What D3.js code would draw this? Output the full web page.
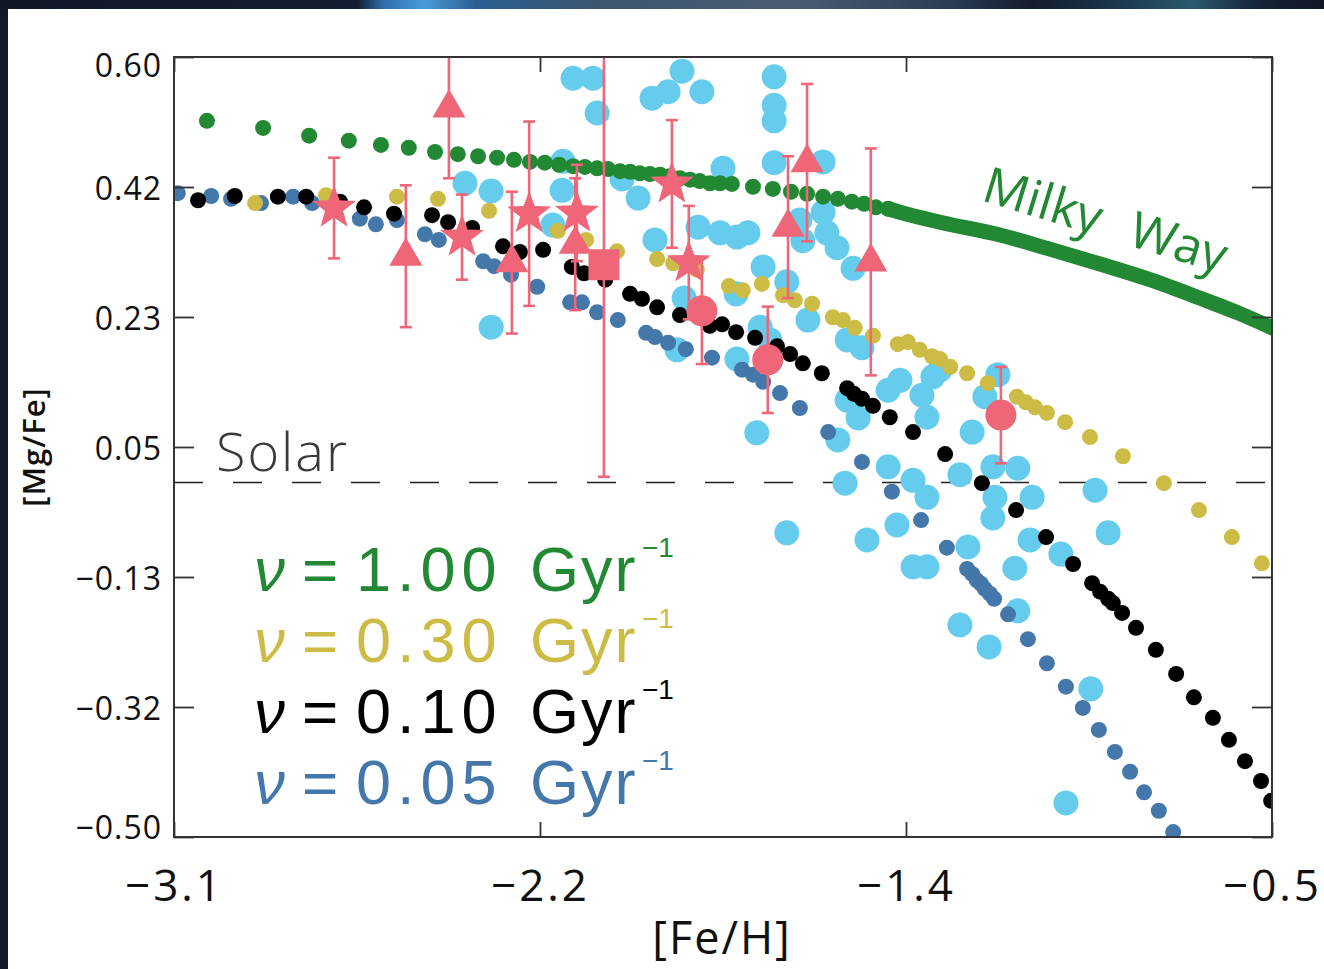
<!DOCTYPE html>
<html>
<head>
<meta charset="utf-8">
<script src="https://cdn.jsdelivr.net/npm/d3@7"></script>
<style>
  html, body { margin: 0; padding: 0; background: #121a2a; }
  svg { display: block; }
</style>
</head>
<body>
<svg id="chart" width="1324" height="969"></svg>
<script>
// ---- axis domains and tick labels ----
const xDomain = [-3.1, -0.5];
const yDomain = [-0.5, 0.6];
const xTickLabels = ["−3.1", "−2.2", "−1.4", "−0.5"];
const yTickLabels = ["−0.50", "−0.32", "−0.13", "0.05", "0.23", "0.42", "0.60"];
const solarLevel = 0;

// ---- chemical evolution tracks: [ [Fe/H], [Mg/Fe] ] ----
const nu100Track = [[-3.022,0.510],[-2.889,0.500],[-2.780,0.489],[-2.686,0.482],[-2.610,0.476],[-2.544,0.472],[-2.482,0.466],[-2.428,0.463],[-2.380,0.460],[-2.335,0.458],[-2.295,0.455],[-2.257,0.452],[-2.222,0.451],[-2.188,0.448],[-2.155,0.446],[-2.127,0.445],[-2.098,0.443],[-2.072,0.442],[-2.044,0.439],[-2.020,0.438],[-1.997,0.436],[-1.973,0.435],[-1.949,0.434],[-1.926,0.432],[-1.902,0.429],[-1.878,0.427],[-1.855,0.425],[-1.831,0.422],[-1.807,0.422],[-1.779,0.421],[-1.729,0.417],[-1.682,0.414],[-1.639,0.410],[-1.601,0.407],[-1.563,0.403],[-1.528,0.400],[-1.495,0.396],[-1.466,0.393],[-1.438,0.388],[-1.409,0.386]];

// dense high-metallicity part of the nu = 1.00 track (Milky Way)
const milkyWayTrack = [[-1.409,0.386],[-1.381,0.381],[-1.286,0.367],[-1.144,0.349],[-1.026,0.329],[-0.907,0.308],[-0.789,0.286],[-0.671,0.260],[-0.576,0.238],[-0.500,0.218]];

const nu030Track = [[-2.908,0.394],[-2.740,0.405],[-2.572,0.403],[-2.475,0.400],[-2.354,0.383],[-2.191,0.355],[-2.124,0.342],[-2.051,0.326],[-1.956,0.315],[-1.918,0.309],[-1.862,0.300],[-1.786,0.277],[-1.753,0.271],[-1.708,0.280],[-1.658,0.264],[-1.630,0.257],[-1.589,0.252],[-1.540,0.233],[-1.516,0.229],[-1.488,0.218],[-1.445,0.207],[-1.386,0.195],[-1.362,0.198],[-1.334,0.187],[-1.305,0.178],[-1.286,0.174],[-1.262,0.163],[-1.222,0.154],[-1.173,0.140],[-1.104,0.121],[-1.083,0.113],[-1.061,0.106],[-1.033,0.098],[-0.990,0.085],[-0.931,0.064],[-0.853,0.037],[-0.756,-0.001],[-0.673,-0.039],[-0.595,-0.077],[-0.524,-0.114]];

const nu010Track = [[-3.043,0.398],[-2.956,0.404],[-2.854,0.403],[-2.787,0.403],[-2.707,0.396],[-2.650,0.388],[-2.579,0.379],[-2.489,0.377],[-2.451,0.367],[-2.394,0.359],[-2.321,0.333],[-2.281,0.325],[-2.226,0.328],[-2.158,0.304],[-2.129,0.295],[-2.079,0.286],[-2.020,0.266],[-1.992,0.259],[-1.956,0.247],[-1.902,0.236],[-1.831,0.221],[-1.802,0.223],[-1.769,0.212],[-1.724,0.204],[-1.672,0.192],[-1.641,0.181],[-1.611,0.168],[-1.566,0.154],[-1.506,0.133],[-1.490,0.125],[-1.471,0.118],[-1.445,0.108],[-1.405,0.092],[-1.350,0.071],[-1.274,0.040],[-1.187,-0.001],[-1.106,-0.039],[-1.035,-0.077],[-0.971,-0.115],[-0.926,-0.142],[-0.907,-0.154],[-0.888,-0.164],[-0.877,-0.170],[-0.855,-0.184],[-0.822,-0.205],[-0.775,-0.236],[-0.727,-0.270],[-0.685,-0.303],[-0.640,-0.332],[-0.602,-0.363],[-0.564,-0.393],[-0.526,-0.421],[-0.502,-0.449]];

const nu005Track = [[-3.091,0.408],[-3.012,0.404],[-2.965,0.400],[-2.894,0.394],[-2.818,0.403],[-2.773,0.394],[-2.660,0.372],[-2.622,0.364],[-2.572,0.370],[-2.506,0.350],[-2.473,0.342],[-2.368,0.312],[-2.342,0.305],[-2.302,0.293],[-2.240,0.276],[-2.162,0.254],[-2.134,0.254],[-2.098,0.240],[-2.049,0.229],[-1.982,0.211],[-1.961,0.205],[-1.930,0.197],[-1.888,0.188],[-1.826,0.176],[-1.755,0.159],[-1.729,0.152],[-1.705,0.142],[-1.665,0.126],[-1.618,0.105],[-1.551,0.071],[-1.471,0.029],[-1.400,-0.013],[-1.331,-0.053],[-1.270,-0.092],[-1.222,-0.122],[-1.210,-0.129],[-1.199,-0.138],[-1.189,-0.143],[-1.180,-0.150],[-1.168,-0.157],[-1.158,-0.164],[-1.125,-0.186],[-1.078,-0.221],[-1.033,-0.255],[-0.988,-0.288],[-0.948,-0.318],[-0.910,-0.349],[-0.872,-0.380],[-0.836,-0.408],[-0.803,-0.437],[-0.768,-0.463],[-0.734,-0.493]];

// ---- comparison stars: [ [Fe/H], [Mg/Fe] ] ----
const fieldStars = [[-2.155,0.570],[-2.108,0.570],[-2.098,0.521],[-1.968,0.542],[-1.930,0.551],[-1.897,0.580],[-1.850,0.551],[-1.679,0.572],[-1.679,0.532],[-1.679,0.510],[-1.679,0.451],[-1.563,0.452],[-1.800,0.443],[-2.179,0.453],[-2.411,0.422],[-2.349,0.411],[-2.181,0.412],[-2.203,0.363],[-2.039,0.428],[-2.001,0.401],[-1.961,0.342],[-1.859,0.360],[-1.807,0.352],[-1.767,0.346],[-1.741,0.352],[-1.618,0.370],[-1.611,0.341],[-1.563,0.381],[-1.554,0.352],[-1.530,0.331],[-1.492,0.302],[-1.705,0.304],[-1.649,0.283],[-1.599,0.229],[-1.769,0.266],[-1.892,0.260],[-1.909,0.187],[-1.767,0.174],[-1.712,0.219],[-1.689,0.201],[-1.506,0.201],[-1.471,0.190],[-2.349,0.219],[-1.409,0.130],[-1.381,0.144],[-1.329,0.123],[-1.303,0.149],[-1.286,0.159],[-1.317,0.092],[-1.506,0.116],[-1.480,0.091],[-1.528,0.060],[-1.720,0.070],[-1.511,-0.001],[-1.409,0.022],[-1.350,0.003],[-1.317,-0.021],[-1.388,-0.060],[-1.459,-0.081],[-1.649,-0.071],[-1.210,0.071],[-1.180,0.121],[-1.149,0.152],[-1.239,0.011],[-1.161,0.022],[-1.102,0.020],[-1.068,-0.021],[-1.161,-0.050],[-1.156,-0.021],[-0.919,-0.011],[-0.888,-0.071],[-1.220,-0.091],[-1.073,-0.081],[-1.000,-0.101],[-1.109,-0.121],[-1.102,-0.181],[-1.239,-0.201],[-1.170,-0.232],[-0.929,-0.291],[-0.988,-0.452],[-1.350,-0.119],[-1.317,-0.119]];

// ---- dwarf galaxy measurements: [ [Fe/H], [Mg/Fe], error ] ----
const starMarkers = [[-2.721,0.387,0.071],[-2.418,0.346,0.060],[-2.259,0.379,0.130],[-2.146,0.380,0.068],[-1.921,0.421,0.090],[-1.881,0.310,0.080]];
const triangleMarkers = [[-2.551,0.319,0.100],[-2.449,0.528,0.099],[-2.300,0.310,0.100],[-2.150,0.336,0.093],[-1.646,0.360,0.100],[-1.601,0.451,0.111],[-1.450,0.311,0.160]];
const squareMarkers = [[-2.082,0.307,0.299]];
const circleMarkers = [[-1.850,0.242,0.075],[-1.694,0.173,0.075],[-1.142,0.095,0.068]];

const legendRows = [
  { value: "1.00", color: "#228833" },
  { value: "0.30", color: "#CCBB44" },
  { value: "0.10", color: "#000000" },
  { value: "0.05", color: "#4477AA" }
];

// ---- layout ----
const W = 1324, H = 969;
const plot = { left: 174, right: 1272, top: 57, bottom: 837 };
const FONT = "'Open Sans', 'DejaVu Sans', sans-serif";
const LEGEND_FONT = "'Liberation Sans', Arial, sans-serif";
const COL = { green: "#228833", yellow: "#CCBB44", black: "#000000", blue: "#4477AA", cyan: "#66CCEE", red: "#EE6677", axis: "#333333" };
const DOT_R = 8;

const svg = d3.select("#chart");

// page backdrop: dark frame with a blue glow along the top edge
const defs = svg.append("defs");
const glow = defs.append("linearGradient").attr("id", "topGlow").attr("x1", 0).attr("x2", 1).attr("y1", 0).attr("y2", 0);
[[0, "#101826"], [0.27, "#141f33"], [0.29, "#2f6fae"], [0.32, "#4a9ad8"], [0.36, "#2a5f92"], [0.45, "#3c5670"], [0.6, "#4a5c72"], [0.72, "#2a3b52"], [0.78, "#131c2c"], [0.85, "#1d3a50"], [0.9, "#2a5a70"], [0.95, "#162436"], [1, "#101826"]]
  .forEach(([o, c]) => glow.append("stop").attr("offset", o).attr("stop-color", c));

svg.append("rect").attr("width", W).attr("height", H).attr("fill", "#121a2a");
svg.append("rect").attr("x", 0).attr("y", 0).attr("width", W).attr("height", 9).attr("fill", "url(#topGlow)");
svg.append("rect").attr("x", 8).attr("y", 9).attr("width", W - 8).attr("height", H - 9).attr("fill", "#ffffff");

const x = d3.scaleLinear().domain(xDomain).range([plot.left, plot.right]);
const y = d3.scaleLinear().domain(yDomain).range([plot.bottom, plot.top]);

const xTicks = d3.range(xTickLabels.length).map(i => xDomain[0] + i * (xDomain[1] - xDomain[0]) / (xTickLabels.length - 1));
const yTicks = d3.range(yTickLabels.length).map(i => yDomain[0] + i * (yDomain[1] - yDomain[0]) / (yTickLabels.length - 1));

defs.append("clipPath").attr("id", "plotClip").append("rect")
  .attr("x", plot.left).attr("y", plot.top)
  .attr("width", plot.right - plot.left).attr("height", plot.bottom - plot.top);

const data = svg.append("g").attr("clip-path", "url(#plotClip)");

// solar reference line
data.append("line")
  .attr("x1", plot.left).attr("x2", plot.right)
  .attr("y1", y(solarLevel)).attr("y2", y(solarLevel))
  .attr("stroke", "#222").attr("stroke-width", 1.6).attr("stroke-dasharray", "29,30");

// comparison stars
data.append("g").selectAll("circle").data(fieldStars).join("circle")
  .attr("cx", d => x(d[0])).attr("cy", d => y(d[1])).attr("r", 12.5).attr("fill", COL.cyan);

function dots(track, color, r) {
  data.append("g").selectAll("circle").data(track).join("circle")
    .attr("cx", d => x(d[0])).attr("cy", d => y(d[1])).attr("r", r).attr("fill", color);
}
dots(nu005Track, COL.blue, DOT_R);
dots(nu010Track, COL.black, DOT_R);
dots(nu030Track, COL.yellow, DOT_R);
dots(nu100Track, COL.green, DOT_R);

data.append("path")
  .attr("d", d3.line().x(d => x(d[0])).y(d => y(d[1])).curve(d3.curveMonotoneX)(milkyWayTrack))
  .attr("fill", "none").attr("stroke", COL.green).attr("stroke-width", 15).attr("stroke-linecap", "round");

// error bars for the dwarf galaxy measurements
const allMarkers = [].concat(starMarkers, triangleMarkers, squareMarkers, circleMarkers);
const bars = data.append("g").attr("stroke", COL.red).attr("stroke-width", 2.6).attr("fill", "none");
allMarkers.forEach(d => {
  const cx = x(d[0]), y0 = y(d[1] - d[2]), y1 = y(d[1] + d[2]);
  bars.append("line").attr("x1", cx).attr("x2", cx).attr("y1", y0).attr("y2", y1);
  bars.append("line").attr("x1", cx - 6).attr("x2", cx + 6).attr("y1", y0).attr("y2", y0);
  bars.append("line").attr("x1", cx - 6).attr("x2", cx + 6).attr("y1", y1).attr("y2", y1);
});

function starPath(R, r) {
  const pts = [];
  for (let i = 0; i < 10; i++) {
    const a = -Math.PI / 2 + i * Math.PI / 5;
    const rad = i % 2 === 0 ? R : r;
    pts.push([rad * Math.cos(a), rad * Math.sin(a)]);
  }
  return "M" + pts.map(p => p.join(",")).join("L") + "Z";
}
const triSide = 33, triH = triSide * Math.sqrt(3) / 2;
const trianglePath = `M0,${-triH * 2 / 3}L${triSide / 2},${triH / 3}L${-triSide / 2},${triH / 3}Z`;

const marks = data.append("g").attr("fill", COL.red);
marks.selectAll(".star").data(starMarkers).join("path").attr("class", "star")
  .attr("d", starPath(23, 9.5)).attr("transform", d => `translate(${x(d[0])},${y(d[1])})`);
marks.selectAll(".tri").data(triangleMarkers).join("path").attr("class", "tri")
  .attr("d", trianglePath).attr("transform", d => `translate(${x(d[0])},${y(d[1])})`);
marks.selectAll(".sq").data(squareMarkers).join("rect").attr("class", "sq")
  .attr("x", d => x(d[0]) - 15.5).attr("y", d => y(d[1]) - 15.5).attr("width", 31).attr("height", 31);
marks.selectAll(".circ").data(circleMarkers).join("circle").attr("class", "circ")
  .attr("cx", d => x(d[0])).attr("cy", d => y(d[1])).attr("r", 15.5);

// ---- axes ----
function styleAxis(g) {
  g.select(".domain").remove();
  g.selectAll(".tick line").attr("stroke", COL.axis).attr("stroke-width", 1.8);
  g.selectAll("text").attr("font-family", FONT).attr("fill", "#111");
}

const yAxis = svg.append("g").attr("transform", `translate(${plot.left},0)`)
  .call(d3.axisLeft(y).tickValues(yTicks).tickFormat((d, i) => yTickLabels[i]).tickSize(-20).tickPadding(12))
  .call(styleAxis);
yAxis.selectAll("text").attr("font-size", 32).attr("letter-spacing", 1)
  .attr("dy", (d, i) => i === yTicks.length - 1 ? "0.62em" : (i === 0 ? "0.06em" : "0.38em"));

svg.append("g").attr("transform", `translate(${plot.right},0)`)
  .call(d3.axisRight(y).tickValues(yTicks).tickFormat("").tickSize(-20))
  .call(styleAxis);

const xAxis = svg.append("g").attr("transform", `translate(0,${plot.bottom})`)
  .call(d3.axisBottom(x).tickValues(xTicks).tickFormat((d, i) => xTickLabels[i]).tickSize(-15).tickPadding(33))
  .call(styleAxis);
xAxis.selectAll("text").attr("font-size", 44).attr("letter-spacing", 3);

svg.append("g").attr("transform", `translate(0,${plot.top})`)
  .call(d3.axisTop(x).tickValues(xTicks).tickFormat("").tickSize(-15))
  .call(styleAxis);

svg.append("rect")
  .attr("x", plot.left).attr("y", plot.top)
  .attr("width", plot.right - plot.left).attr("height", plot.bottom - plot.top)
  .attr("fill", "none").attr("stroke", COL.axis).attr("stroke-width", 2);

// axis titles
svg.append("text").attr("x", 722).attr("y", 954).attr("text-anchor", "middle")
  .attr("font-family", FONT).attr("font-size", 45).attr("letter-spacing", 2).attr("fill", "#111").text("[Fe/H]");
svg.append("text").attr("transform", "translate(45,447) rotate(-90)").attr("text-anchor", "middle")
  .attr("font-family", FONT).attr("font-size", 31).attr("font-weight", 600).attr("letter-spacing", 1).attr("fill", "#111").text("[Mg/Fe]");

// annotations
svg.append("text").attr("x", 216).attr("y", 471)
  .attr("font-family", FONT).attr("font-weight", 300).attr("font-size", 54).attr("letter-spacing", 2).attr("fill", "#3a3a3a").text("Solar");

const mw = svg.append("g").attr("transform", "translate(980,200) rotate(17)")
  .attr("font-family", FONT).attr("font-size", 50).attr("fill", COL.green);
mw.append("text").attr("x", 0).attr("y", 0).text("Milky");
mw.append("text").attr("x", 153).attr("y", 0).text("Way");

// legend: symbol, value and unit placed as separate labels on each row
const legend = svg.append("g").attr("font-family", LEGEND_FONT);
legendRows.forEach((row, i) => {
  const by = 591 + i * 71;
  const g = legend.append("g").attr("fill", row.color);
  g.append("text").attr("x", 254).attr("y", by).attr("font-size", 62).attr("font-style", "italic").text("ν");
  g.append("text").attr("x", 302).attr("y", by).attr("font-size", 62).text("=");
  g.append("text").attr("x", 356).attr("y", by).attr("font-size", 63).attr("letter-spacing", 6).text(row.value);
  g.append("text").attr("x", 530).attr("y", by).attr("font-size", 63).attr("letter-spacing", 2).text("Gyr");
  g.append("text").attr("x", 642).attr("y", by - 34).attr("font-size", 28).text("−1");
});
</script>
</body>
</html>
